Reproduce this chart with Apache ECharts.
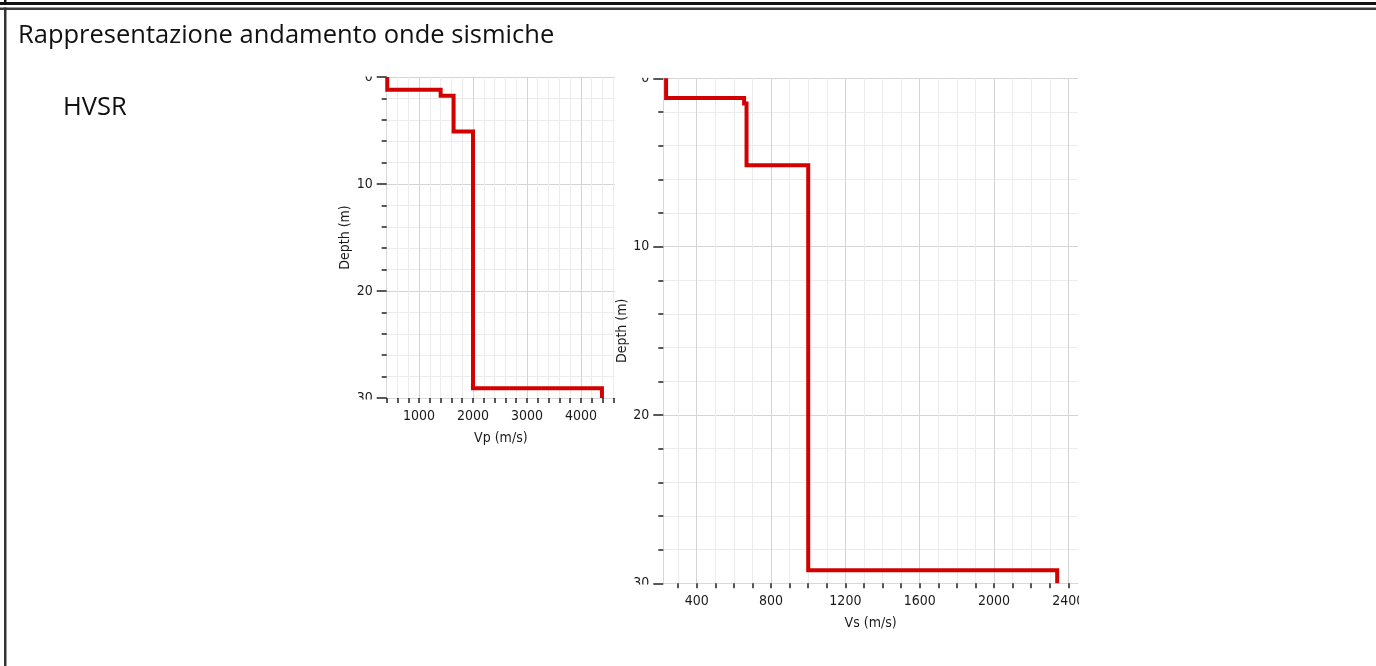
<!DOCTYPE html>
<html>
<head>
<meta charset="utf-8">
<title>Rappresentazione andamento onde sismiche</title>
<script src="https://cdn.jsdelivr.net/npm/echarts@6/dist/echarts.min.js"></script>
<style>
  html, body { margin: 0; padding: 0; background: #fff; }
  #chart { width: 1376px; height: 666px; }
</style>
</head>
<body>
<div id="chart"></div>
<script>
// strati: profondita' del tetto (m) e velocita' (m/s)
const vpTops = [0, 1.2, 1.75, 5.1, 29.1];
const vpValues = [410, 1400, 1640, 2000, 4390];
const vsTops = [0, 1.17, 1.49, 5.17, 29.23];
const vsValues = [235, 655, 668, 1000, 2340];
const maxDepth = 30;

// tacche e etichette degli assi
const vpTicks = [400, 600, 800, 1000, 1200, 1400, 1600, 1800, 2000, 2200, 2400,
  2600, 2800, 3000, 3200, 3400, 3600, 3800, 4000, 4200, 4400, 4600];
const vpLabels = [1000, 2000, 3000, 4000];
const vsTicks = [300, 400, 500, 600, 700, 800, 900, 1000, 1100, 1200, 1300,
  1400, 1500, 1600, 1700, 1800, 1900, 2000, 2100, 2200, 2300, 2400];
const vsLabels = [400, 800, 1200, 1600, 2000, 2400];

const FONT = "'DejaVu Sans Condensed', 'DejaVu Sans', sans-serif";
const RED = '#d20000';

// profilo a gradini: ogni strato va dal suo tetto al tetto del successivo
const steps = (tops, values) => {
  const pts = [];
  tops.forEach((top, i) => {
    const bottom = i + 1 < tops.length ? tops[i + 1] : maxDepth;
    pts.push([values[i], top], [values[i], bottom]);
  });
  return pts;
};

const textStyle = { color: '#1a1a1a', fontFamily: FONT, fontSize: 14 };
const plain = (v) => String(v);

const velocityAxis = (g, min, max, name, ticks, labels) => ({
  gridIndex: g,
  type: 'value',
  min: min,
  max: max,
  position: 'bottom',
  name: name,
  nameLocation: 'middle',
  nameGap: 33,
  nameTextStyle: textStyle,
  axisLine: { show: true, onZero: false, lineStyle: { color: '#d9d9d9', width: 1 } },
  axisTick: { show: true, customValues: ticks, length: 5, lineStyle: { color: '#222', width: 1.5 } },
  axisLabel: Object.assign({ customValues: labels, margin: 11, formatter: plain }, textStyle),
  splitLine: { show: true, lineStyle: { color: '#ececec', width: 1 } }
});

// asse nascosto solo per le linee di griglia principali
const majorGridAxis = (g, min, max, labels) => ({
  gridIndex: g,
  type: 'value',
  min: min,
  max: max,
  position: 'top',
  axisLine: { show: false, onZero: false },
  axisTick: { show: false, customValues: labels },
  axisLabel: { show: false },
  splitLine: { show: true, lineStyle: { color: '#d4d4d4', width: 1 } }
});

const depthAxis = (g, gap) => ({
  gridIndex: g,
  type: 'value',
  inverse: true,
  min: 0,
  max: maxDepth,
  interval: 10,
  name: 'Depth (m)',
  nameLocation: 'middle',
  nameGap: gap,
  nameTextStyle: textStyle,
  axisLine: { show: true, onZero: false, lineStyle: { color: '#d9d9d9', width: 1 } },
  axisTick: { show: true, length: 10, lineStyle: { color: '#222', width: 1.5 } },
  minorTick: { show: true, splitNumber: 5, length: 5, lineStyle: { color: '#222', width: 1.5 } },
  axisLabel: Object.assign({ margin: 14, formatter: plain }, textStyle),
  splitLine: { show: true, lineStyle: { color: '#d4d4d4', width: 1 } },
  minorSplitLine: { show: true, lineStyle: { color: '#ececec', width: 1 } }
});

const profile = (axis, data) => ({
  type: 'line',
  xAxisIndex: axis,
  yAxisIndex: axis === 0 ? 0 : 1,
  data: data,
  symbol: 'none',
  silent: true,
  lineStyle: { color: RED, width: 4, join: 'miter', cap: 'butt' }
});

// coperture bianche: le immagini originali tagliano alcune etichette ai bordi
const cover = (x, y, w, h) => ({
  type: 'rect', z: 100, silent: true,
  shape: { x: x, y: y, width: w, height: h },
  style: { fill: '#fff' }
});

const chart = echarts.init(document.getElementById('chart'));
chart.setOption({
  animation: false,
  backgroundColor: '#fff',
  title: [
    {
      text: 'Rappresentazione andamento onde sismiche',
      left: 18, top: 23, padding: 0,
      textStyle: { fontFamily: 'Open Sans', fontSize: 25.5, fontWeight: 'normal', color: '#111' }
    },
    {
      text: 'HVSR',
      left: 63, top: 95, padding: 0,
      textStyle: { fontFamily: 'Open Sans', fontSize: 25.5, fontWeight: 'normal', color: '#111' }
    }
  ],
  grid: [
    { left: 386.7, top: 77, width: 228.3, height: 321, outerBoundsMode: 'none' },
    { left: 663.3, top: 78.3, width: 414.7, height: 505, outerBoundsMode: 'none' }
  ],
  xAxis: [
    velocityAxis(0, 400, 4632, 'Vp (m/s)', vpTicks, vpLabels),
    majorGridAxis(0, 400, 4632, vpLabels),
    velocityAxis(1, 220, 2452, 'Vs (m/s)', vsTicks, vsLabels),
    majorGridAxis(1, 220, 2452, vsLabels)
  ],
  yAxis: [depthAxis(0, 27), depthAxis(1, 26)],
  series: [
    profile(0, steps(vpTops, vpValues)),
    profile(2, steps(vsTops, vsValues))
  ],
  graphic: [
    { type: 'rect', silent: true, shape: { x: 0, y: 2, width: 1376, height: 3 }, style: { fill: '#111' } },
    { type: 'rect', silent: true, shape: { x: 4, y: 0, width: 2.5, height: 5 }, style: { fill: '#111' } },
    { type: 'rect', silent: true, shape: { x: 0, y: 7.5, width: 1376, height: 2.5 }, style: { fill: '#3a3a3a' } },
    { type: 'rect', silent: true, shape: { x: 4, y: 7.5, width: 2.5, height: 660 }, style: { fill: '#333' } },
    cover(350, 60, 26, 16.5),
    cover(350, 399.5, 26, 9),
    cover(625, 60, 26, 17.8),
    cover(625, 584.5, 26, 9),
    cover(1079, 588, 24, 24)
  ]
});
</script>
</body>
</html>
